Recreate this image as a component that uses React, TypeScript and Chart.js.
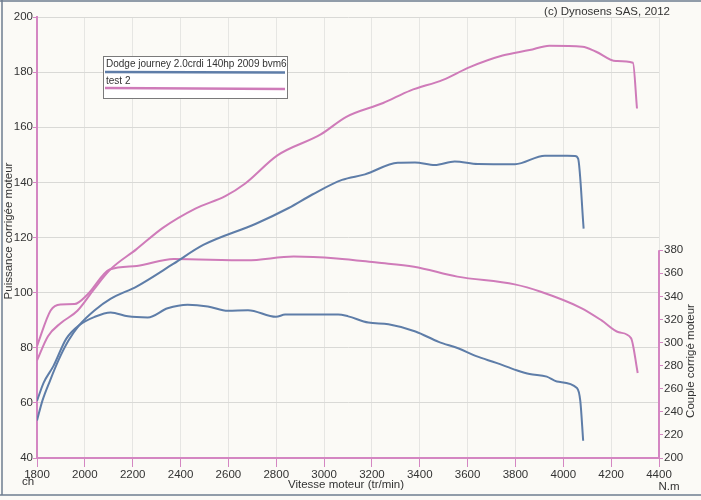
import { useRef, useEffect } from "react"
import { Chart, registerables } from "chart.js"

Chart.register(...registerables)

// Dodge journey (blue) - power in ch, torque in N.m
const dodgePowerRpm = [1800, 1823, 1855, 1890, 1931, 1975, 2040, 2107, 2218, 2371, 2495, 2715, 2852, 2951, 3075, 3171, 3308, 3380, 3463, 3546, 3643, 3798, 3923, 4049, 4062, 4085]
const dodgePower = [53.6, 60.9, 68.2, 75.5, 82.5, 88.0, 93.5, 97.7, 102.3, 110.5, 117.3, 125.0, 130.7, 135.6, 140.9, 142.9, 147.1, 147.2, 146.3, 147.6, 146.7, 146.6, 149.7, 149.6, 148.6, 123.2]
const dodgeTorqueRpm = [1800, 1828, 1869, 1922, 1977, 2041, 2108, 2180, 2263, 2346, 2430, 2514, 2598, 2682, 2799, 2837, 3059, 3101, 3185, 3269, 3382, 3479, 3563, 3636, 3720, 3805, 3859, 3931, 3973, 4057, 4071, 4083]
const dodgeTorque = [249.5, 265.3, 279.8, 303.2, 315.1, 322.3, 326.1, 322.7, 321.8, 329.7, 332.8, 331.3, 327.5, 328.0, 322.3, 324.2, 324.4, 322.7, 317.3, 315.8, 309.6, 300.6, 294.8, 288.2, 282.4, 276.0, 272.7, 270.5, 266.2, 260.7, 249.5, 214.9]

// test 2 (pink)
const testPowerRpm = [1800, 1846, 1900, 1969, 2038, 2104, 2215, 2326, 2462, 2587, 2669, 2805, 2986, 3093, 3247, 3360, 3497, 3609, 3746, 3859, 3942, 4080, 4135, 4220, 4291, 4308]
const testPower = [75.4, 84.2, 89.0, 93.4, 101.2, 108.2, 115.7, 123.5, 130.5, 135.0, 139.5, 149.8, 157.4, 163.8, 168.8, 173.3, 177.2, 181.8, 186.0, 188.0, 189.6, 189.2, 187.5, 184.0, 183.4, 166.8]
const testTorqueRpm = [1800, 1857, 1898, 1957, 2010, 2104, 2217, 2371, 2677, 2873, 3053, 3221, 3376, 3557, 3797, 3906, 4075, 4160, 4232, 4283, 4311]
const testTorque = [297.0, 327.8, 333.0, 333.3, 341.4, 363.3, 366.4, 372.4, 371.2, 374.5, 372.9, 369.3, 365.7, 357.1, 350.4, 344.0, 329.9, 319.2, 308.9, 303.9, 273.6]

const seriesNames = ["Dodge journey 2.0crdi 140hp 2009 bvm6", "test 2"]

const rpmTicks = [1800, 2000, 2200, 2400, 2600, 2800, 3000, 3200, 3400, 3600, 3800, 4000, 4200, 4400]
const powerTicks = [40, 60, 80, 100, 120, 140, 160, 180, 200]
const torqueTicks = [200, 220, 240, 260, 280, 300, 320, 340, 360, 380]

const BLUE = "#5e7da8"
const PINK = "#cf7bb9"
const AXIS = "#d486c2"
const TEXT = "#333333"
const FONT = "'Liberation Sans', Arial, sans-serif"

const toPoints = (xs: number[], ys: number[]) => xs.map((x, i) => ({ x, y: ys[i] }))

const decor = {
    id: "decor",
    beforeDraw(chart: Chart) {
        const { ctx, width, height } = chart
        ctx.save()
        ctx.fillStyle = "#fbfaf6"
        ctx.fillRect(0, 0, width, height)
        // scan frame
        ctx.strokeStyle = "#6f7e90"
        ctx.lineWidth = 1.5
        ctx.beginPath()
        ctx.moveTo(0, 1)
        ctx.lineTo(width, 1)
        ctx.moveTo(2, 0)
        ctx.lineTo(2, 495)
        ctx.moveTo(0, 495)
        ctx.lineTo(width, 495)
        ctx.stroke()
        ctx.restore()
    },
    afterDraw(chart: Chart) {
        const { ctx, chartArea } = chart
        const y1 = chart.scales.y1
        ctx.save()

        // right axis line, only over the labelled range
        ctx.strokeStyle = AXIS
        ctx.lineWidth = 2
        ctx.beginPath()
        ctx.moveTo(chartArea.right, y1.getPixelForValue(torqueTicks[0]))
        ctx.lineTo(chartArea.right, y1.getPixelForValue(torqueTicks[torqueTicks.length - 1]))
        ctx.stroke()

        ctx.fillStyle = TEXT
        ctx.font = `11.5px ${FONT}`
        ctx.textBaseline = "middle"

        // axis titles
        ctx.textAlign = "center"
        ctx.save()
        ctx.translate(9, 231)
        ctx.rotate(-Math.PI / 2)
        ctx.fillText("Puissance corrigée moteur", 0, 0)
        ctx.restore()

        ctx.save()
        ctx.translate(691, 361)
        ctx.rotate(-Math.PI / 2)
        ctx.fillText("Couple corrigé moteur", 0, 0)
        ctx.restore()

        ctx.fillText("Vitesse moteur (tr/min)", 346, 485)
        ctx.fillText("N.m", 669, 487)
        ctx.textAlign = "left"
        ctx.fillText("ch", 22, 482)
        ctx.textAlign = "right"
        ctx.fillText("(c) Dynosens SAS, 2012", 670, 12)

        // legend box
        ctx.fillStyle = "#ffffff"
        ctx.fillRect(103.5, 56.5, 184, 42)
        ctx.strokeStyle = "#7a7a7a"
        ctx.lineWidth = 1
        ctx.strokeRect(103.5, 56.5, 184, 42)
        ctx.fillStyle = TEXT
        ctx.font = `10px ${FONT}`
        ctx.textAlign = "left"
        ctx.fillText(seriesNames[0], 106, 64)
        ctx.fillText(seriesNames[1], 106, 81)
        ctx.lineWidth = 2.5
        ctx.strokeStyle = BLUE
        ctx.beginPath()
        ctx.moveTo(105, 72)
        ctx.lineTo(285, 72.5)
        ctx.stroke()
        ctx.strokeStyle = PINK
        ctx.beginPath()
        ctx.moveTo(105, 88)
        ctx.lineTo(285, 89)
        ctx.stroke()

        ctx.restore()
    },
}

export default function App() {
    const chartRef = useRef<HTMLCanvasElement | null>(null)
    const chartInstance = useRef<Chart | null>(null)

    useEffect(() => {
        if (!chartRef.current) return
        if (chartInstance.current) chartInstance.current.destroy()

        const line = (label: string, color: string, data: { x: number; y: number }[], axis: string) => ({
            label,
            data,
            yAxisID: axis,
            borderColor: color,
            borderWidth: 2,
            pointRadius: 0,
            fill: false,
            cubicInterpolationMode: "monotone" as const,
        })

        const tickFont = { family: FONT, size: 11.5 }

        chartInstance.current = new Chart(chartRef.current, {
            type: "line",
            data: {
                datasets: [
                    line(seriesNames[0], BLUE, toPoints(dodgePowerRpm, dodgePower), "y"),
                    line(seriesNames[0], BLUE, toPoints(dodgeTorqueRpm, dodgeTorque), "y1"),
                    line(seriesNames[1], PINK, toPoints(testPowerRpm, testPower), "y"),
                    line(seriesNames[1], PINK, toPoints(testTorqueRpm, testTorque), "y1"),
                ],
            },
            options: {
                responsive: true,
                maintainAspectRatio: false,
                animation: false,
                layout: { padding: { top: 17, left: 0, right: 0, bottom: 0 } },
                plugins: {
                    legend: { display: false },
                    tooltip: { enabled: false },
                },
                scales: {
                    x: {
                        type: "linear",
                        min: 1800,
                        max: 4400,
                        afterBuildTicks: (s: any) => {
                            s.ticks = rpmTicks.map((value) => ({ value }))
                        },
                        afterFit: (s: any) => {
                            s.height = 42
                        },
                        ticks: {
                            color: TEXT,
                            font: tickFont,
                            padding: 1,
                            maxRotation: 0,
                            autoSkip: false,
                            callback: (v: any) => String(v),
                        },
                        grid: { color: "#e6e6e3", tickColor: AXIS, tickLength: 9 },
                        border: { color: AXIS, width: 2 },
                    },
                    y: {
                        position: "left",
                        min: 40,
                        max: 200,
                        afterBuildTicks: (s: any) => {
                            s.ticks = powerTicks.map((value) => ({ value }))
                        },
                        afterFit: (s: any) => {
                            s.width = 37
                        },
                        ticks: {
                            color: TEXT,
                            font: tickFont,
                            padding: 0,
                            callback: (v: any) => String(v),
                        },
                        grid: { color: "#d9d9d6", tickColor: AXIS, tickLength: 4 },
                        border: { color: AXIS, width: 2 },
                    },
                    y1: {
                        position: "right",
                        min: 200,
                        max: 582,
                        afterBuildTicks: (s: any) => {
                            s.ticks = torqueTicks.map((value) => ({ value }))
                        },
                        afterFit: (s: any) => {
                            s.width = 42
                        },
                        ticks: {
                            color: TEXT,
                            font: tickFont,
                            padding: 1,
                            callback: (v: any) => String(v),
                        },
                        grid: { drawOnChartArea: false, tickColor: AXIS, tickLength: 4 },
                        border: { display: false },
                    },
                },
            },
            plugins: [decor],
        })

        return () => {
            if (chartInstance.current) {
                chartInstance.current.destroy()
                chartInstance.current = null
            }
        }
    }, [])

    return (
        <div style={{ position: "fixed", left: 0, top: 0, width: 701, height: 500 }}>
            <canvas ref={chartRef} />
        </div>
    )
}
